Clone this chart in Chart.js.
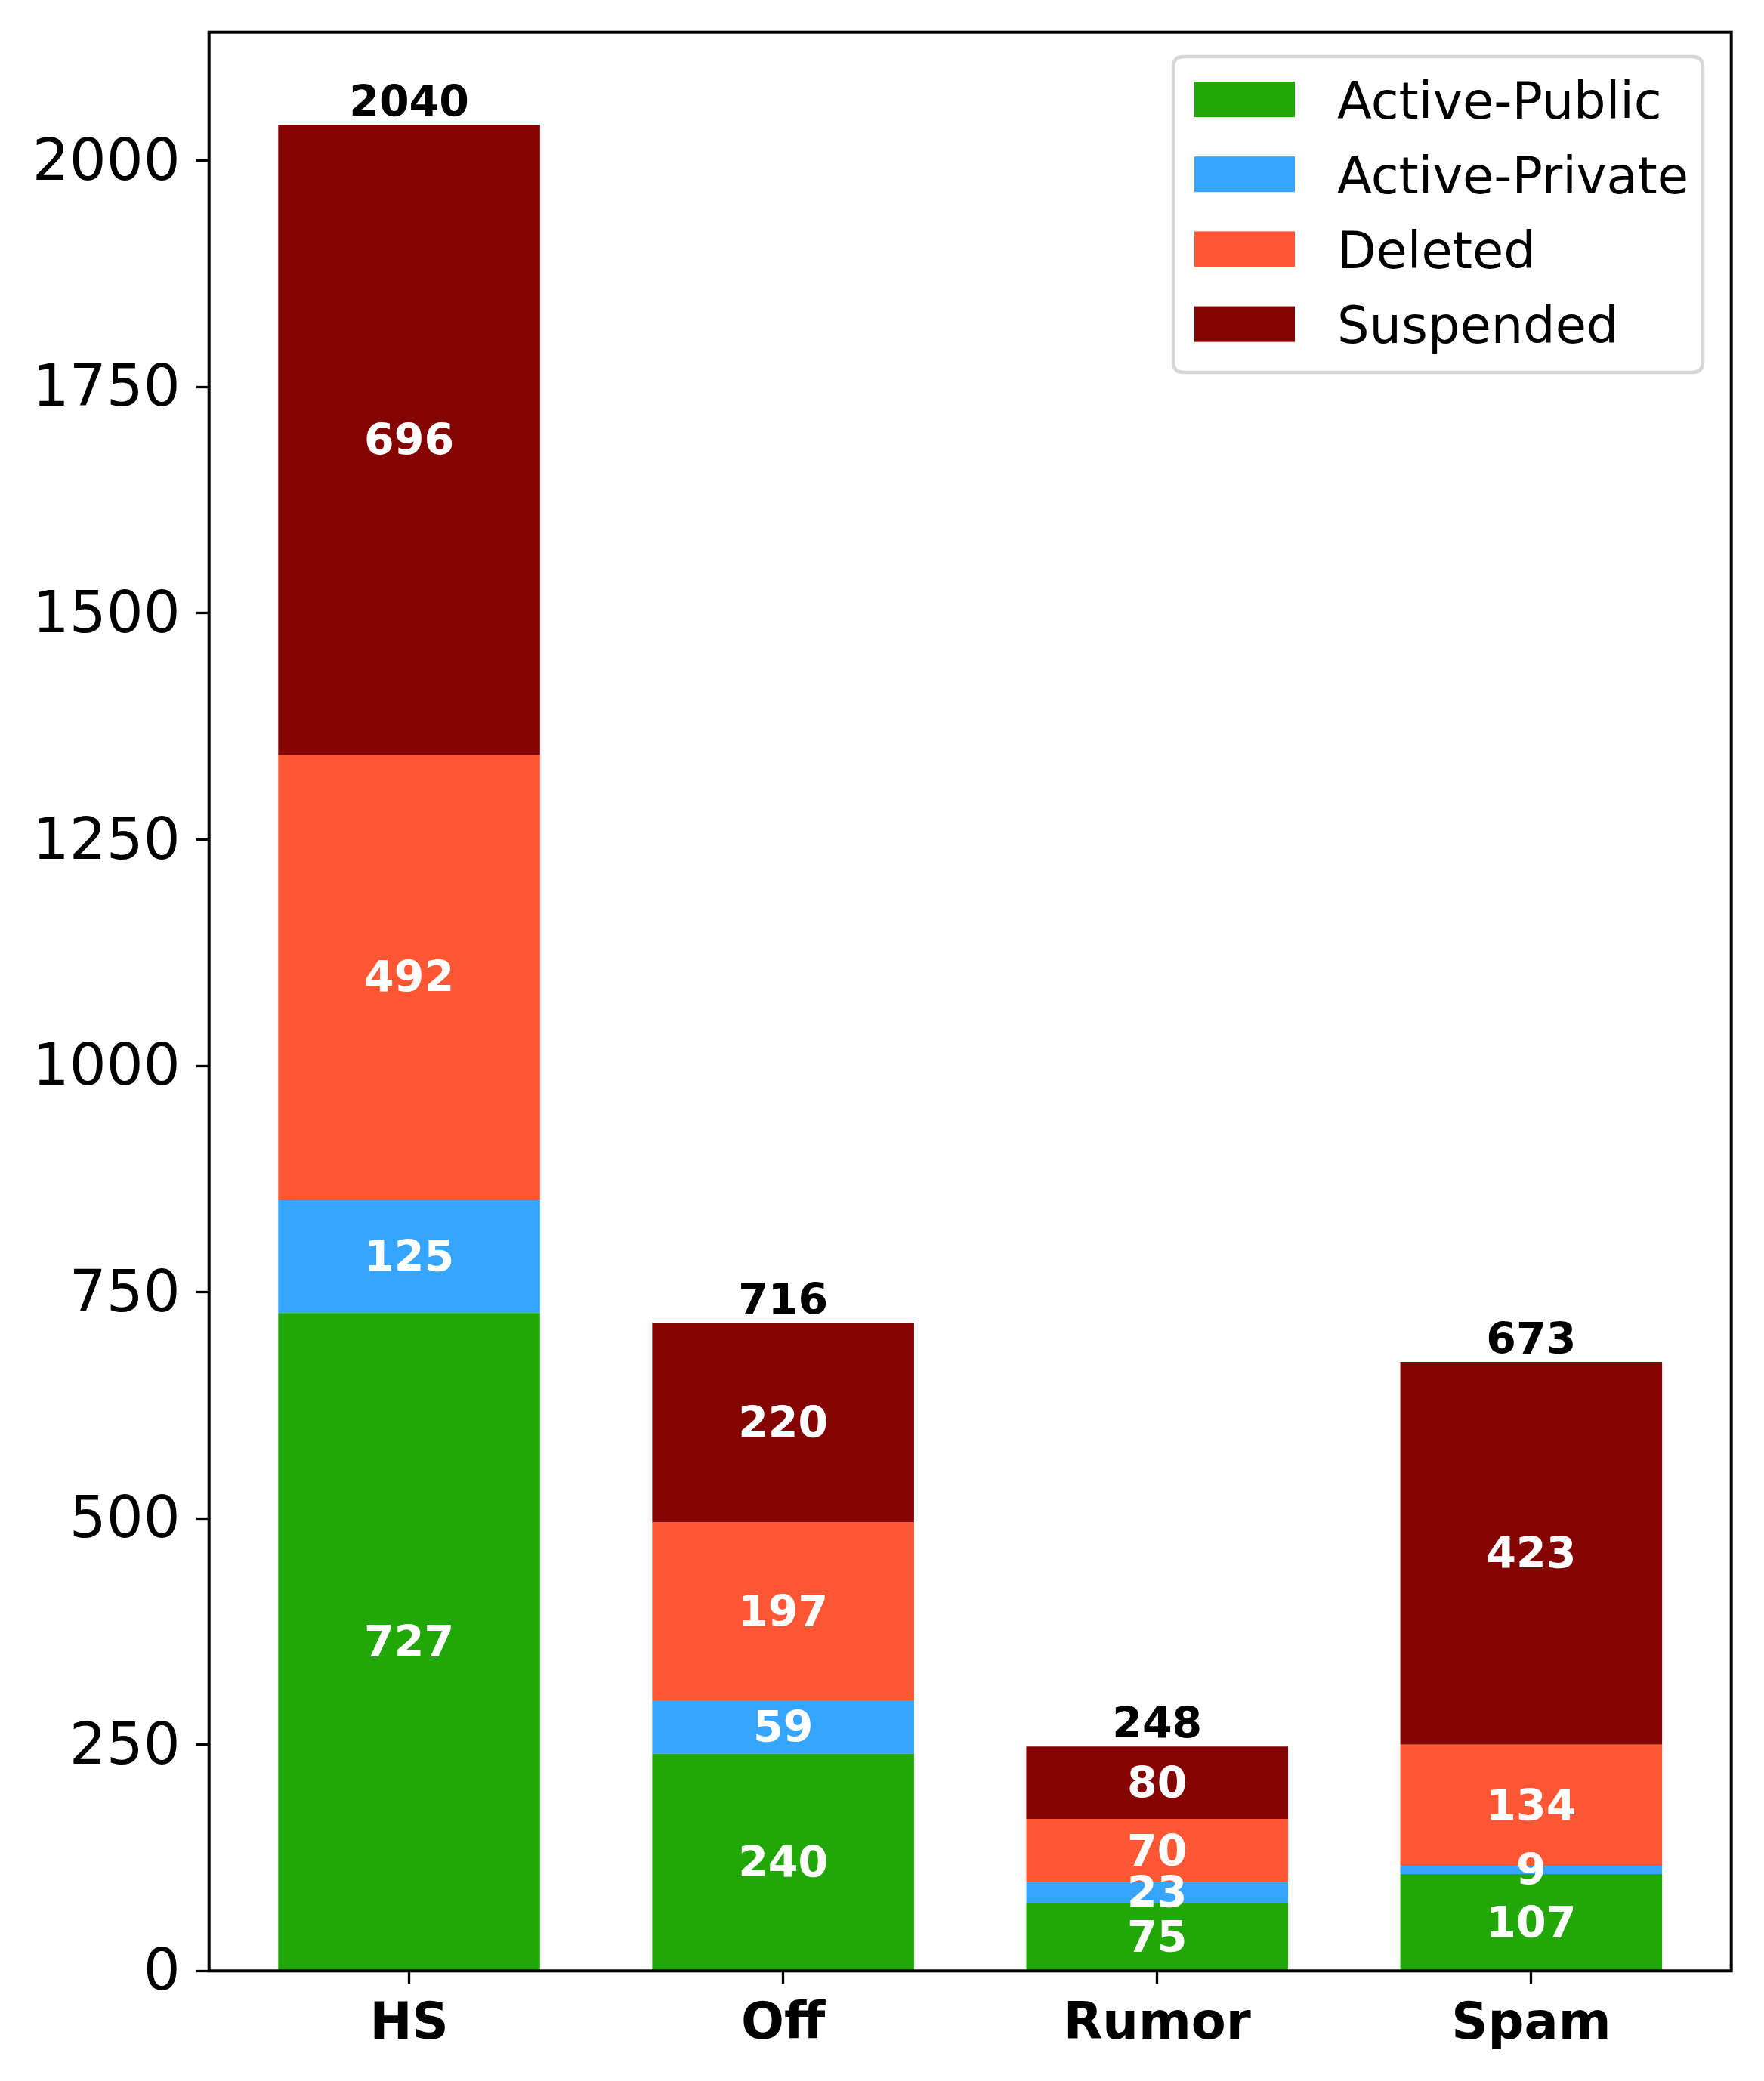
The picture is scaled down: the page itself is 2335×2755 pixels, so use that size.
<!DOCTYPE html>
<html>
<head>
<meta charset="utf-8">
<script src="https://cdn.jsdelivr.net/npm/chart.js@4.4.1/dist/chart.umd.min.js"></script>
<style>
  html, body { margin: 0; padding: 0; background: #ffffff; }
  #wrap { width: 2335px; height: 2755px; position: relative; }
</style>
</head>
<body>
<div id="wrap"><canvas id="c" width="2335" height="2755"></canvas></div>
<script>
// ---- data ----
const categories = ['HS', 'Off', 'Rumor', 'Spam'];
const seriesNames = ['Active-Public', 'Active-Private', 'Deleted', 'Suspended'];
const activePublic = [727, 240, 75, 107];
const activePrivate = [125, 59, 23, 9];
const deleted = [492, 197, 70, 134];
const suspended = [696, 220, 80, 423];
const yTicks = [0, 250, 500, 750, 1000, 1250, 1500, 1750, 2000];

const seriesValues = [activePublic, activePrivate, deleted, suspended];
const seriesColors = ['#22A708', '#36A5FF', '#FF5733', '#840404'];

const FONT = "'DejaVu Sans', 'Liberation Sans', sans-serif";

const datasets = seriesNames.map((name, s) => ({
  label: name,
  data: seriesValues[s].map((v, i) => ({ x: i, y: v })),
  backgroundColor: seriesColors[s],
  borderWidth: 0,
  stack: 'all',
  categoryPercentage: 1.0,
  barPercentage: 0.7
}));

// frame around plot area (matplotlib spines)
const framePlugin = {
  id: 'frame',
  afterDatasetsDraw(chart) {
    const { ctx, chartArea: a } = chart;
    ctx.save();
    ctx.strokeStyle = '#000';
    ctx.lineWidth = 4;
    ctx.strokeRect(a.left, a.top, a.right - a.left, a.bottom - a.top);
    ctx.restore();
  }
};

// value labels inside segments and totals above bars
const labelPlugin = {
  id: 'barLabels',
  afterDatasetsDraw(chart) {
    const { ctx } = chart;
    const size = 57;
    ctx.save();
    ctx.font = 'bold ' + size + 'px ' + FONT;
    ctx.textAlign = 'center';
    ctx.textBaseline = 'alphabetic';
    const nCat = categories.length;
    const topY = new Array(nCat).fill(Infinity);
    const topX = new Array(nCat).fill(0);
    chart.data.datasets.forEach((ds, di) => {
      const meta = chart.getDatasetMeta(di);
      meta.data.forEach((el, i) => {
        const v = seriesValues[di][i];
        const mid = (el.y + el.base) / 2;
        ctx.fillStyle = '#ffffff';
        ctx.fillText(String(v), el.x, mid + size * 0.729 / 2 - 1);
        if (el.y < topY[i]) { topY[i] = el.y; topX[i] = el.x; }
      });
    });
    ctx.fillStyle = '#000000';
    for (let i = 0; i < nCat; i++) {
      const total = seriesValues.reduce((acc, arr) => acc + arr[i], 0);
      ctx.fillText(String(total), topX[i], topY[i] - 11);
    }
    ctx.restore();
  }
};

// legend inside the plot area, upper right
const legendPlugin = {
  id: 'innerLegend',
  afterDraw(chart) {
    const { ctx, chartArea: a } = chart;
    const right = a.right - 37.7;
    const left = 1553;
    const top = a.top + 32.3;
    const bottom = top + 418;
    const r = 14;
    ctx.save();
    ctx.beginPath();
    ctx.moveTo(left + r, top);
    ctx.lineTo(right - r, top);
    ctx.quadraticCurveTo(right, top, right, top + r);
    ctx.lineTo(right, bottom - r);
    ctx.quadraticCurveTo(right, bottom, right - r, bottom);
    ctx.lineTo(left + r, bottom);
    ctx.quadraticCurveTo(left, bottom, left, bottom - r);
    ctx.lineTo(left, top + r);
    ctx.quadraticCurveTo(left, top, left + r, top);
    ctx.closePath();
    ctx.fillStyle = 'rgba(255,255,255,0.8)';
    ctx.fill();
    ctx.lineWidth = 4.5;
    ctx.strokeStyle = '#d6d6d6';
    ctx.stroke();

    ctx.font = '67px ' + FONT;
    ctx.textAlign = 'left';
    ctx.textBaseline = 'alphabetic';
    chart.data.datasets.forEach((ds, i) => {
      const cy = top + 56.5 + i * 99.2;
      ctx.fillStyle = ds.backgroundColor;
      ctx.fillRect(left + 28, cy - 23.5, 133, 47);
      ctx.fillStyle = '#000';
      ctx.fillText(ds.label, left + 217, cy + 25);
    });
    ctx.restore();
  }
};

new Chart(document.getElementById('c'), {
  type: 'bar',
  data: { datasets },
  options: {
    responsive: false,
    devicePixelRatio: 1,
    animation: false,
    layout: { padding: { top: 42.7, right: 43.3, left: 0, bottom: 0 } },
    plugins: { legend: { display: false }, tooltip: { enabled: false } },
    scales: {
      x: {
        type: 'linear',
        stacked: true,
        offset: false,
        min: -0.535,
        max: 3.535,
        afterBuildTicks: (scale) => { scale.ticks = categories.map((c, i) => ({ value: i })); },
        afterFit: (scale) => {
          scale.height = 145.7;
          scale.paddingLeft = 0; scale.paddingRight = 0;
          scale.paddingTop = 0; scale.paddingBottom = 0;
        },
        ticks: {
          includeBounds: false,
          autoSkip: false,
          maxRotation: 0,
          padding: 15,
          color: '#000',
          font: { family: FONT, size: 67, weight: 'bold' },
          callback: (v) => categories[v]
        },
        grid: {
          display: true, offset: false, drawOnChartArea: false, drawTicks: true,
          tickLength: 17, tickWidth: 3.3, tickColor: '#000'
        },
        border: { display: false }
      },
      y: {
        stacked: true,
        min: 0,
        max: 2142,
        afterBuildTicks: (scale) => { scale.ticks = yTicks.map(v => ({ value: v })); },
        afterFit: (scale) => {
          scale.width = 276.7;
          scale.paddingTop = 0; scale.paddingBottom = 0;
          scale.paddingLeft = 0; scale.paddingRight = 0;
        },
        ticks: {
          includeBounds: false,
          autoSkip: false,
          padding: 21,
          labelOffset: 5,
          color: '#000',
          font: { family: FONT, size: 77 },
          callback: (v) => String(v)
        },
        grid: {
          display: true, drawOnChartArea: false, drawTicks: true,
          tickLength: 17, tickWidth: 3.3, tickColor: '#000'
        },
        border: { display: false }
      }
    }
  },
  plugins: [framePlugin, labelPlugin, legendPlugin]
});
</script>
</body>
</html>
